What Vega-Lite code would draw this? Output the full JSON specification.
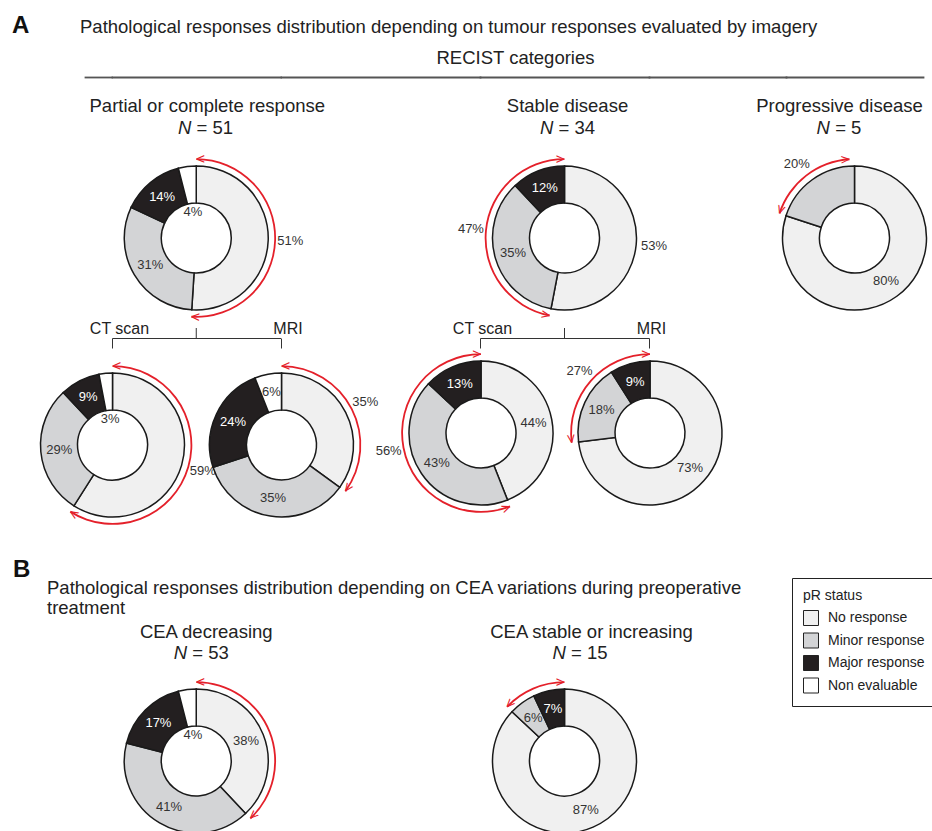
{
 "$schema": "https://vega.github.io/schema/vega-lite/v6.json",
 "padding": 0,
 "background": "white",
 "config": {
  "font": "Liberation Sans",
  "view": {"stroke": null},
  "legend": {"orient": "none", "legendX": 792, "legendY": 578, "padding": 11, "strokeColor": "#222222", "titleFontSize": 14, "titleFontWeight": "normal", "titleColor": "#222222", "titlePadding": 7, "labelFontSize": 14, "labelColor": "#222222", "symbolType": "square", "symbolSize": 225, "symbolStrokeColor": "#222222", "symbolStrokeWidth": 1, "rowPadding": 2.5, "labelOffset": 9}
 },
 "datasets": {
  "slices": [
   {"g":"PR","cat":"No response","k":1,"pct":51,"lab":""},
   {"g":"PR","cat":"Minor response","k":2,"pct":31,"lab":"31%"},
   {"g":"PR","cat":"Major response","k":3,"pct":14,"lab":"14%"},
   {"g":"PR","cat":"Non evaluable","k":4,"pct":4,"lab":"4%"},
   {"g":"SD","cat":"No response","k":1,"pct":53,"lab":"53%"},
   {"g":"SD","cat":"Minor response","k":2,"pct":35,"lab":"35%"},
   {"g":"SD","cat":"Major response","k":3,"pct":12,"lab":"12%"},
   {"g":"PD","cat":"No response","k":1,"pct":80,"lab":"80%"},
   {"g":"PD","cat":"Minor response","k":2,"pct":20,"lab":""},
   {"g":"PR-CT","cat":"No response","k":1,"pct":59,"lab":""},
   {"g":"PR-CT","cat":"Minor response","k":2,"pct":29,"lab":"29%"},
   {"g":"PR-CT","cat":"Major response","k":3,"pct":9,"lab":"9%"},
   {"g":"PR-CT","cat":"Non evaluable","k":4,"pct":3,"lab":"3%"},
   {"g":"PR-MRI","cat":"No response","k":1,"pct":35,"lab":""},
   {"g":"PR-MRI","cat":"Minor response","k":2,"pct":35,"lab":"35%"},
   {"g":"PR-MRI","cat":"Major response","k":3,"pct":24,"lab":"24%"},
   {"g":"PR-MRI","cat":"Non evaluable","k":4,"pct":6,"lab":"6%"},
   {"g":"SD-CT","cat":"No response","k":1,"pct":44,"lab":"44%"},
   {"g":"SD-CT","cat":"Minor response","k":2,"pct":43,"lab":"43%"},
   {"g":"SD-CT","cat":"Major response","k":3,"pct":13,"lab":"13%"},
   {"g":"SD-MRI","cat":"No response","k":1,"pct":73,"lab":"73%"},
   {"g":"SD-MRI","cat":"Minor response","k":2,"pct":18,"lab":"18%"},
   {"g":"SD-MRI","cat":"Major response","k":3,"pct":9,"lab":"9%"},
   {"g":"CEA-dec","cat":"No response","k":1,"pct":38,"lab":"38%"},
   {"g":"CEA-dec","cat":"Minor response","k":2,"pct":41,"lab":"41%"},
   {"g":"CEA-dec","cat":"Major response","k":3,"pct":17,"lab":"17%"},
   {"g":"CEA-dec","cat":"Non evaluable","k":4,"pct":4,"lab":"4%"},
   {"g":"CEA-inc","cat":"No response","k":1,"pct":87,"lab":"87%"},
   {"g":"CEA-inc","cat":"Minor response","k":2,"pct":6,"lab":"6%"},
   {"g":"CEA-inc","cat":"Major response","k":3,"pct":7,"lab":"7%"}
  ],
  "arcs": [
   {"g":"PR","a0":0,"a1":51,"lab":"51%"},
   {"g":"SD","a0":53,"a1":100,"lab":"47%"},
   {"g":"PD","a0":80,"a1":99,"lab":"20%"},
   {"g":"PR-CT","a0":0,"a1":59,"lab":"59%"},
   {"g":"PR-MRI","a0":0,"a1":35,"lab":"35%"},
   {"g":"SD-CT","a0":44,"a1":100,"lab":"56%"},
   {"g":"SD-MRI","a0":73,"a1":100,"lab":"27%"},
   {"g":"CEA-dec","a0":0,"a1":38,"lab":""},
   {"g":"CEA-inc","a0":87,"a1":100,"lab":""}
  ]
 },
 "columns": 7,
 "spacing": 0,
 "bounds": "flush",
 "align": "each",
 "concat": [
  {
   "width": 85, "height": 77,
   "layer": [
    {"data": {"values": [{"t": "A"}]}, "mark": {"type": "text", "align": "left", "baseline": "alphabetic", "dx": -30.5, "dy": -5.5, "fontSize": 24, "fontWeight": "bold", "color": "#111111"}, "encoding": {"text": {"field": "t", "type": "nominal"}}},
    {"data": {"values": [{"t": "Pathological responses distribution depending on tumour responses evaluated by imagery"}]}, "mark": {"type": "text", "align": "left", "baseline": "alphabetic", "dx": 37.5, "dy": -5.5, "fontSize": 18.5, "color": "#222222"}, "encoding": {"text": {"field": "t", "type": "nominal"}}},
    {"data": {"values": [{"t": "RECIST categories"}]}, "mark": {"type": "text", "align": "center", "baseline": "alphabetic", "dx": 473, "dy": 25.5, "fontSize": 18.5, "color": "#222222"}, "encoding": {"text": {"field": "t", "type": "nominal"}}}
   ]
  },
  {"width": 26.5, "height": 77, "data": {"values": [{}]}, "mark": {"type": "point", "opacity": 0, "size": 0, "strokeWidth": 0}, "encoding": {"x": {"datum": 0, "type": "quantitative", "scale": {"domain": [0, 1]}, "axis": {"orient": "bottom", "domain": true, "domainColor": "#555555", "domainWidth": 1.8, "domainCap": "square", "ticks": false, "labels": false, "grid": false, "title": null}}}},
  {"width": 168.5, "height": 77, "data": {"values": [{}]}, "mark": {"type": "point", "opacity": 0, "size": 0, "strokeWidth": 0}, "encoding": {"x": {"datum": 0, "type": "quantitative", "scale": {"domain": [0, 1]}, "axis": {"orient": "bottom", "domain": true, "domainColor": "#555555", "domainWidth": 1.8, "domainCap": "square", "ticks": false, "labels": false, "grid": false, "title": null}}}},
  {"width": 199, "height": 77, "data": {"values": [{}]}, "mark": {"type": "point", "opacity": 0, "size": 0, "strokeWidth": 0}, "encoding": {"x": {"datum": 0, "type": "quantitative", "scale": {"domain": [0, 1]}, "axis": {"orient": "bottom", "domain": true, "domainColor": "#555555", "domainWidth": 1.8, "domainCap": "square", "ticks": false, "labels": false, "grid": false, "title": null}}}},
  {"width": 169, "height": 77, "data": {"values": [{}]}, "mark": {"type": "point", "opacity": 0, "size": 0, "strokeWidth": 0}, "encoding": {"x": {"datum": 0, "type": "quantitative", "scale": {"domain": [0, 1]}, "axis": {"orient": "bottom", "domain": true, "domainColor": "#555555", "domainWidth": 1.8, "domainCap": "square", "ticks": false, "labels": false, "grid": false, "title": null}}}},
  {"width": 137, "height": 77, "data": {"values": [{}]}, "mark": {"type": "point", "opacity": 0, "size": 0, "strokeWidth": 0}, "encoding": {"x": {"datum": 0, "type": "quantitative", "scale": {"domain": [0, 1]}, "axis": {"orient": "bottom", "domain": true, "domainColor": "#555555", "domainWidth": 1.8, "domainCap": "square", "ticks": false, "labels": false, "grid": false, "title": null}}}},
  {"width": 137, "height": 77, "data": {"values": [{}]}, "mark": {"type": "point", "opacity": 0, "size": 0, "strokeWidth": 0}, "encoding": {"x": {"datum": 0, "type": "quantitative", "scale": {"domain": [0, 1]}, "axis": {"orient": "bottom", "domain": true, "domainColor": "#555555", "domainWidth": 1.8, "domainCap": "square", "ticks": false, "labels": false, "grid": false, "title": null}}}},

  {"width": 1, "height": 88, "data": {"values": [{}]}, "mark": {"type": "point", "opacity": 0, "size": 0, "strokeWidth": 0}},
  {"width": 1, "height": 1, "data": {"values": [{}]}, "mark": {"type": "point", "opacity": 0, "size": 0, "strokeWidth": 0}},
  {
   "width": 168.5, "height": 88,
   "layer": [
    {"data": {"values": [{"t": "Partial  or complete response"}]}, "mark": {"type": "text", "align": "center", "baseline": "alphabetic", "dx": 11, "dy": -9, "fontSize": 18.5, "color": "#222222"}, "encoding": {"text": {"field": "t", "type": "nominal"}}},
    {"data": {"values": [{"t": "N"}]}, "mark": {"type": "text", "align": "left", "baseline": "alphabetic", "dx": -18.25, "dy": 12.5, "fontSize": 18.5, "fontStyle": "italic", "color": "#222222"}, "encoding": {"text": {"field": "t", "type": "nominal"}}},
    {"data": {"values": [{"t": "= 51"}]}, "mark": {"type": "text", "align": "right", "baseline": "alphabetic", "dx": 36.75, "dy": 12.5, "fontSize": 18.5, "color": "#222222"}, "encoding": {"text": {"field": "t", "type": "nominal"}}}
   ]
  },
  {"width": 1, "height": 1, "data": {"values": [{}]}, "mark": {"type": "point", "opacity": 0, "size": 0, "strokeWidth": 0}},
  {
   "width": 169, "height": 88,
   "layer": [
    {"data": {"values": [{"t": "Stable disease"}]}, "mark": {"type": "text", "align": "center", "baseline": "alphabetic", "dx": 3, "dy": -9, "fontSize": 18.5, "color": "#222222"}, "encoding": {"text": {"field": "t", "type": "nominal"}}},
    {"data": {"values": [{"t": "N"}]}, "mark": {"type": "text", "align": "left", "baseline": "alphabetic", "dx": -24.5, "dy": 12.5, "fontSize": 18.5, "fontStyle": "italic", "color": "#222222"}, "encoding": {"text": {"field": "t", "type": "nominal"}}},
    {"data": {"values": [{"t": "= 34"}]}, "mark": {"type": "text", "align": "right", "baseline": "alphabetic", "dx": 30.5, "dy": 12.5, "fontSize": 18.5, "color": "#222222"}, "encoding": {"text": {"field": "t", "type": "nominal"}}}
   ]
  },
  {"width": 1, "height": 1, "data": {"values": [{}]}, "mark": {"type": "point", "opacity": 0, "size": 0, "strokeWidth": 0}},
  {
   "width": 137, "height": 88,
   "layer": [
    {"data": {"values": [{"t": "Progressive disease"}]}, "mark": {"type": "text", "align": "center", "baseline": "alphabetic", "dx": -15, "dy": -9, "fontSize": 18.5, "color": "#222222"}, "encoding": {"text": {"field": "t", "type": "nominal"}}},
    {"data": {"values": [{"t": "N"}]}, "mark": {"type": "text", "align": "left", "baseline": "alphabetic", "dx": -37.9, "dy": 12.5, "fontSize": 18.5, "fontStyle": "italic", "color": "#222222"}, "encoding": {"text": {"field": "t", "type": "nominal"}}},
    {"data": {"values": [{"t": "= 5"}]}, "mark": {"type": "text", "align": "right", "baseline": "alphabetic", "dx": 6.9, "dy": 12.5, "fontSize": 18.5, "color": "#222222"}, "encoding": {"text": {"field": "t", "type": "nominal"}}}
   ]
  },

  {"width": 1, "height": 163, "data": {"values": [{}]}, "mark": {"type": "point", "opacity": 0, "size": 0, "strokeWidth": 0}},
  {"width": 1, "height": 1, "data": {"values": [{}]}, "mark": {"type": "point", "opacity": 0, "size": 0, "strokeWidth": 0}},
  {
   "width": 168.5, "height": 146,
   "layer": [
    {"data":{"name":"slices"},"transform":[{"filter":"datum.g == 'PR'"}],"mark":{"type":"arc","innerRadius":35,"outerRadius":72,"stroke":"#1a1a1a","strokeWidth":1.5},"encoding":{"theta":{"field":"pct","type":"quantitative","stack":true,"scale":{"domain":[0,100]}},"order":{"field":"k","type":"quantitative"},"color":{"field":"cat","type":"nominal","title":"pR status","scale":{"domain":["No response","Minor response","Major response","Non evaluable"],"range":["#f0f0f0","#d3d4d6","#231f20","#ffffff"]}}}},
    {"data":{"name":"slices"},"transform":[{"filter":"datum.g == 'PR'"}],"mark":{"type":"text","radius":53.5,"fontSize":13},"encoding":{"theta":{"field":"pct","type":"quantitative","stack":true,"scale":{"domain":[0,100]}},"order":{"field":"k","type":"quantitative"},"text":{"condition":{"test":"!(datum.cat == 'Non evaluable' && datum.pct < 5)","field":"lab","type":"nominal"},"value":""},"color":{"condition":{"test":"datum.cat == 'Major response'","value":"#ffffff"},"value":"#333333"}}},
    {"data":{"name":"slices"},"transform":[{"filter":"datum.g == 'PR'"}],"mark":{"type":"text","radius":26,"fontSize":13,"color":"#333333"},"encoding":{"theta":{"field":"pct","type":"quantitative","stack":true,"scale":{"domain":[0,100]}},"order":{"field":"k","type":"quantitative"},"text":{"condition":{"test":"datum.cat == 'Non evaluable' && datum.pct < 5","field":"lab","type":"nominal"},"value":""}}},
    {"data":{"name":"arcs"},"transform":[{"filter":"datum.g == 'PR'"}],"mark":{"type":"arc","innerRadius":78,"outerRadius":79.8,"color":"#e4202a"},"encoding":{"theta":{"field":"a0","type":"quantitative","stack":null,"scale":{"domain":[0,100]}},"theta2":{"field":"a1"}}},
    {"data":{"name":"arcs"},"transform":[{"filter":"datum.g == 'PR'"},{"fold":["a0","a1"],"as":["end","v"]}],"mark":{"type":"text","radius":94,"fontSize":13,"color":"#333333"},"encoding":{"theta":{"aggregate":"mean","field":"v","type":"quantitative","stack":null,"scale":{"domain":[0,100]}},"text":{"field":"lab","type":"nominal"}}},
    {"data":{"name":"arcs"},"transform":[{"filter":"datum.g == 'PR'"}],"mark":{"type":"text","text":">","radius":78.9,"align":"right","baseline":"middle","fontSize":15,"color":"#e4202a"},"encoding":{"theta":{"field":"a1","type":"quantitative","stack":null,"scale":{"domain":[0,100]}},"angle":{"field":"a1","type":"quantitative","scale":{"domain":[0,100],"range":[0,360]}}}},
    {"data":{"name":"arcs"},"transform":[{"filter":"datum.g == 'PR'"}],"mark":{"type":"text","text":">","radius":78.9,"align":"right","baseline":"middle","fontSize":15,"color":"#e4202a"},"encoding":{"theta":{"field":"a0","type":"quantitative","stack":null,"scale":{"domain":[0,100]}},"angle":{"field":"a0","type":"quantitative","scale":{"domain":[0,100],"range":[180,540]}}}}
   ],
   "resolve": {"scale": {"angle": "independent"}}
  },
  {"width": 1, "height": 1, "data": {"values": [{}]}, "mark": {"type": "point", "opacity": 0, "size": 0, "strokeWidth": 0}},
  {
   "width": 169, "height": 146,
   "layer": [
    {"data":{"name":"slices"},"transform":[{"filter":"datum.g == 'SD'"}],"mark":{"type":"arc","innerRadius":35,"outerRadius":72,"stroke":"#1a1a1a","strokeWidth":1.5},"encoding":{"theta":{"field":"pct","type":"quantitative","stack":true,"scale":{"domain":[0,100]}},"order":{"field":"k","type":"quantitative"},"color":{"field":"cat","type":"nominal","title":"pR status","scale":{"domain":["No response","Minor response","Major response","Non evaluable"],"range":["#f0f0f0","#d3d4d6","#231f20","#ffffff"]}}}},
    {"data":{"name":"slices"},"transform":[{"filter":"datum.g == 'SD'"}],"mark":{"type":"text","radius":53.5,"fontSize":13},"encoding":{"theta":{"field":"pct","type":"quantitative","stack":true,"scale":{"domain":[0,100]}},"order":{"field":"k","type":"quantitative"},"text":{"condition":{"test":"datum.cat != 'No response' && !(datum.cat == 'Non evaluable' && datum.pct < 5)","field":"lab","type":"nominal"},"value":""},"color":{"condition":{"test":"datum.cat == 'Major response'","value":"#ffffff"},"value":"#333333"}}},
    {"data":{"name":"slices"},"transform":[{"filter":"datum.g == 'SD'"}],"mark":{"type":"text","radius":90,"fontSize":13,"color":"#333333"},"encoding":{"theta":{"field":"pct","type":"quantitative","stack":true,"scale":{"domain":[0,100]}},"order":{"field":"k","type":"quantitative"},"text":{"condition":{"test":"datum.cat == 'No response'","field":"lab","type":"nominal"},"value":""}}},
    {"data":{"name":"arcs"},"transform":[{"filter":"datum.g == 'SD'"}],"mark":{"type":"arc","innerRadius":78,"outerRadius":79.8,"color":"#e4202a"},"encoding":{"theta":{"field":"a0","type":"quantitative","stack":null,"scale":{"domain":[0,100]}},"theta2":{"field":"a1"}}},
    {"data":{"name":"arcs"},"transform":[{"filter":"datum.g == 'SD'"},{"fold":["a0","a1"],"as":["end","v"]}],"mark":{"type":"text","radius":94,"fontSize":13,"color":"#333333"},"encoding":{"theta":{"aggregate":"mean","field":"v","type":"quantitative","stack":null,"scale":{"domain":[0,100]}},"text":{"field":"lab","type":"nominal"}}},
    {"data":{"name":"arcs"},"transform":[{"filter":"datum.g == 'SD'"}],"mark":{"type":"text","text":">","radius":78.9,"align":"right","baseline":"middle","fontSize":15,"color":"#e4202a"},"encoding":{"theta":{"field":"a1","type":"quantitative","stack":null,"scale":{"domain":[0,100]}},"angle":{"field":"a1","type":"quantitative","scale":{"domain":[0,100],"range":[0,360]}}}},
    {"data":{"name":"arcs"},"transform":[{"filter":"datum.g == 'SD'"}],"mark":{"type":"text","text":">","radius":78.9,"align":"right","baseline":"middle","fontSize":15,"color":"#e4202a"},"encoding":{"theta":{"field":"a0","type":"quantitative","stack":null,"scale":{"domain":[0,100]}},"angle":{"field":"a0","type":"quantitative","scale":{"domain":[0,100],"range":[180,540]}}}}
   ],
   "resolve": {"scale": {"angle": "independent"}}
  },
  {"width": 1, "height": 1, "data": {"values": [{}]}, "mark": {"type": "point", "opacity": 0, "size": 0, "strokeWidth": 0}},
  {
   "width": 137, "height": 146,
   "layer": [
    {"data":{"name":"slices"},"transform":[{"filter":"datum.g == 'PD'"}],"mark":{"type":"arc","innerRadius":35,"outerRadius":72,"stroke":"#1a1a1a","strokeWidth":1.5},"encoding":{"theta":{"field":"pct","type":"quantitative","stack":true,"scale":{"domain":[0,100]}},"order":{"field":"k","type":"quantitative"},"color":{"field":"cat","type":"nominal","title":"pR status","scale":{"domain":["No response","Minor response","Major response","Non evaluable"],"range":["#f0f0f0","#d3d4d6","#231f20","#ffffff"]}}}},
    {"data":{"name":"slices"},"transform":[{"filter":"datum.g == 'PD'"}],"mark":{"type":"text","radius":53.5,"fontSize":13},"encoding":{"theta":{"field":"pct","type":"quantitative","stack":true,"scale":{"domain":[0,100]}},"order":{"field":"k","type":"quantitative"},"text":{"condition":{"test":"!(datum.cat == 'Non evaluable' && datum.pct < 5)","field":"lab","type":"nominal"},"value":""},"color":{"condition":{"test":"datum.cat == 'Major response'","value":"#ffffff"},"value":"#333333"}}},
    {"data":{"name":"arcs"},"transform":[{"filter":"datum.g == 'PD'"}],"mark":{"type":"arc","innerRadius":78,"outerRadius":79.8,"color":"#e4202a"},"encoding":{"theta":{"field":"a0","type":"quantitative","stack":null,"scale":{"domain":[0,100]}},"theta2":{"field":"a1"}}},
    {"data":{"name":"arcs"},"transform":[{"filter":"datum.g == 'PD'"},{"fold":["a0","a1"],"as":["end","v"]}],"mark":{"type":"text","radius":94,"fontSize":13,"color":"#333333"},"encoding":{"theta":{"aggregate":"mean","field":"v","type":"quantitative","stack":null,"scale":{"domain":[0,100]}},"text":{"field":"lab","type":"nominal"}}},
    {"data":{"name":"arcs"},"transform":[{"filter":"datum.g == 'PD'"}],"mark":{"type":"text","text":">","radius":78.9,"align":"right","baseline":"middle","fontSize":15,"color":"#e4202a"},"encoding":{"theta":{"field":"a1","type":"quantitative","stack":null,"scale":{"domain":[0,100]}},"angle":{"field":"a1","type":"quantitative","scale":{"domain":[0,100],"range":[0,360]}}}},
    {"data":{"name":"arcs"},"transform":[{"filter":"datum.g == 'PD'"}],"mark":{"type":"text","text":">","radius":78.9,"align":"right","baseline":"middle","fontSize":15,"color":"#e4202a"},"encoding":{"theta":{"field":"a0","type":"quantitative","stack":null,"scale":{"domain":[0,100]}},"angle":{"field":"a0","type":"quantitative","scale":{"domain":[0,100],"range":[180,540]}}}}
   ],
   "resolve": {"scale": {"angle": "independent"}}
  },

  {"width": 1, "height": 10, "data": {"values": [{}]}, "mark": {"type": "point", "opacity": 0, "size": 0, "strokeWidth": 0}},
  {"width": 1, "height": 1, "data": {"values": [{}]}, "mark": {"type": "point", "opacity": 0, "size": 0, "strokeWidth": 0}},
  {"width": 168.5, "height": 10, "data": {"values": [{}]}, "mark": {"type": "rule", "color": "#333333", "strokeWidth": 1}, "encoding": {"x": {"datum": 0.5, "type": "quantitative", "scale": {"domain": [0, 1]}, "axis": {"orient": "bottom", "values": [0, 1], "domain": true, "domainColor": "#333333", "domainWidth": 1, "ticks": true, "tickSize": 10, "tickColor": "#333333", "tickWidth": 1, "labels": true, "labelExpr": "datum.value == 0 ? 'CT scan' : 'MRI'", "labelPadding": -15, "labelBaseline": "alphabetic", "labelAlign": "center", "labelOffset": 7, "labelFontSize": 16, "labelColor": "#222222", "labelFlush": false, "labelOverlap": false, "labelBound": false, "grid": false, "title": null}}}},
  {"width": 1, "height": 1, "data": {"values": [{}]}, "mark": {"type": "point", "opacity": 0, "size": 0, "strokeWidth": 0}},
  {"width": 169, "height": 10, "data": {"values": [{}]}, "mark": {"type": "rule", "color": "#333333", "strokeWidth": 1}, "encoding": {"x": {"datum": 0.5, "type": "quantitative", "scale": {"domain": [0, 1]}, "axis": {"orient": "bottom", "values": [0, 1], "domain": true, "domainColor": "#333333", "domainWidth": 1, "ticks": true, "tickSize": 10, "tickColor": "#333333", "tickWidth": 1, "labels": true, "labelExpr": "datum.value == 0 ? 'CT scan' : 'MRI'", "labelPadding": -15, "labelBaseline": "alphabetic", "labelAlign": "center", "labelOffset": 2, "labelFontSize": 16, "labelColor": "#222222", "labelFlush": false, "labelOverlap": false, "labelBound": false, "grid": false, "title": null}}}},
  {"width": 1, "height": 1, "data": {"values": [{}]}, "mark": {"type": "point", "opacity": 0, "size": 0, "strokeWidth": 0}},
  {"width": 1, "height": 1, "data": {"values": [{}]}, "mark": {"type": "point", "opacity": 0, "size": 0, "strokeWidth": 0}},

  {"width": 1, "height": 1, "data": {"values": [{}]}, "mark": {"type": "point", "opacity": 0, "size": 0, "strokeWidth": 0}},
  {"width": 1, "height": 1, "data": {"values": [{}]}, "mark": {"type": "point", "opacity": 0, "size": 0, "strokeWidth": 0}},
  {
   "width": 1, "height": 214,
   "layer": [
    {"data":{"name":"slices"},"transform":[{"filter":"datum.g == 'PR-CT'"}],"mark":{"type":"arc","innerRadius":35,"outerRadius":72,"stroke":"#1a1a1a","strokeWidth":1.5},"encoding":{"theta":{"field":"pct","type":"quantitative","stack":true,"scale":{"domain":[0,100]}},"order":{"field":"k","type":"quantitative"},"color":{"field":"cat","type":"nominal","title":"pR status","scale":{"domain":["No response","Minor response","Major response","Non evaluable"],"range":["#f0f0f0","#d3d4d6","#231f20","#ffffff"]}}}},
    {"data":{"name":"slices"},"transform":[{"filter":"datum.g == 'PR-CT'"}],"mark":{"type":"text","radius":53.5,"fontSize":13},"encoding":{"theta":{"field":"pct","type":"quantitative","stack":true,"scale":{"domain":[0,100]}},"order":{"field":"k","type":"quantitative"},"text":{"condition":{"test":"!(datum.cat == 'Non evaluable' && datum.pct < 5)","field":"lab","type":"nominal"},"value":""},"color":{"condition":{"test":"datum.cat == 'Major response'","value":"#ffffff"},"value":"#333333"}}},
    {"data":{"name":"slices"},"transform":[{"filter":"datum.g == 'PR-CT'"}],"mark":{"type":"text","radius":26,"fontSize":13,"color":"#333333"},"encoding":{"theta":{"field":"pct","type":"quantitative","stack":true,"scale":{"domain":[0,100]}},"order":{"field":"k","type":"quantitative"},"text":{"condition":{"test":"datum.cat == 'Non evaluable' && datum.pct < 5","field":"lab","type":"nominal"},"value":""}}},
    {"data":{"name":"arcs"},"transform":[{"filter":"datum.g == 'PR-CT'"}],"mark":{"type":"arc","innerRadius":78,"outerRadius":79.8,"color":"#e4202a"},"encoding":{"theta":{"field":"a0","type":"quantitative","stack":null,"scale":{"domain":[0,100]}},"theta2":{"field":"a1"}}},
    {"data":{"name":"arcs"},"transform":[{"filter":"datum.g == 'PR-CT'"},{"fold":["a0","a1"],"as":["end","v"]}],"mark":{"type":"text","radius":94,"fontSize":13,"color":"#333333"},"encoding":{"theta":{"aggregate":"mean","field":"v","type":"quantitative","stack":null,"scale":{"domain":[0,100]}},"text":{"field":"lab","type":"nominal"}}},
    {"data":{"name":"arcs"},"transform":[{"filter":"datum.g == 'PR-CT'"}],"mark":{"type":"text","text":">","radius":78.9,"align":"right","baseline":"middle","fontSize":15,"color":"#e4202a"},"encoding":{"theta":{"field":"a1","type":"quantitative","stack":null,"scale":{"domain":[0,100]}},"angle":{"field":"a1","type":"quantitative","scale":{"domain":[0,100],"range":[0,360]}}}},
    {"data":{"name":"arcs"},"transform":[{"filter":"datum.g == 'PR-CT'"}],"mark":{"type":"text","text":">","radius":78.9,"align":"right","baseline":"middle","fontSize":15,"color":"#e4202a"},"encoding":{"theta":{"field":"a0","type":"quantitative","stack":null,"scale":{"domain":[0,100]}},"angle":{"field":"a0","type":"quantitative","scale":{"domain":[0,100],"range":[180,540]}}}}
   ],
   "resolve": {"scale": {"angle": "independent"}}
  },
  {
   "width": 1, "height": 214,
   "layer": [
    {"data":{"name":"slices"},"transform":[{"filter":"datum.g == 'PR-MRI'"}],"mark":{"type":"arc","innerRadius":35,"outerRadius":72,"stroke":"#1a1a1a","strokeWidth":1.5},"encoding":{"theta":{"field":"pct","type":"quantitative","stack":true,"scale":{"domain":[0,100]}},"order":{"field":"k","type":"quantitative"},"color":{"field":"cat","type":"nominal","title":"pR status","scale":{"domain":["No response","Minor response","Major response","Non evaluable"],"range":["#f0f0f0","#d3d4d6","#231f20","#ffffff"]}}}},
    {"data":{"name":"slices"},"transform":[{"filter":"datum.g == 'PR-MRI'"}],"mark":{"type":"text","radius":53.5,"fontSize":13},"encoding":{"theta":{"field":"pct","type":"quantitative","stack":true,"scale":{"domain":[0,100]}},"order":{"field":"k","type":"quantitative"},"text":{"condition":{"test":"!(datum.cat == 'Non evaluable' && datum.pct < 5)","field":"lab","type":"nominal"},"value":""},"color":{"condition":{"test":"datum.cat == 'Major response'","value":"#ffffff"},"value":"#333333"}}},
    {"data":{"name":"arcs"},"transform":[{"filter":"datum.g == 'PR-MRI'"}],"mark":{"type":"arc","innerRadius":78,"outerRadius":79.8,"color":"#e4202a"},"encoding":{"theta":{"field":"a0","type":"quantitative","stack":null,"scale":{"domain":[0,100]}},"theta2":{"field":"a1"}}},
    {"data":{"name":"arcs"},"transform":[{"filter":"datum.g == 'PR-MRI'"},{"fold":["a0","a1"],"as":["end","v"]}],"mark":{"type":"text","radius":94,"fontSize":13,"color":"#333333"},"encoding":{"theta":{"aggregate":"mean","field":"v","type":"quantitative","stack":null,"scale":{"domain":[0,100]}},"text":{"field":"lab","type":"nominal"}}},
    {"data":{"name":"arcs"},"transform":[{"filter":"datum.g == 'PR-MRI'"}],"mark":{"type":"text","text":">","radius":78.9,"align":"right","baseline":"middle","fontSize":15,"color":"#e4202a"},"encoding":{"theta":{"field":"a1","type":"quantitative","stack":null,"scale":{"domain":[0,100]}},"angle":{"field":"a1","type":"quantitative","scale":{"domain":[0,100],"range":[0,360]}}}},
    {"data":{"name":"arcs"},"transform":[{"filter":"datum.g == 'PR-MRI'"}],"mark":{"type":"text","text":">","radius":78.9,"align":"right","baseline":"middle","fontSize":15,"color":"#e4202a"},"encoding":{"theta":{"field":"a0","type":"quantitative","stack":null,"scale":{"domain":[0,100]}},"angle":{"field":"a0","type":"quantitative","scale":{"domain":[0,100],"range":[180,540]}}}}
   ],
   "resolve": {"scale": {"angle": "independent"}}
  },
  {
   "width": 2, "height": 190,
   "layer": [
    {"data":{"name":"slices"},"transform":[{"filter":"datum.g == 'SD-CT'"}],"mark":{"type":"arc","innerRadius":35,"outerRadius":72,"stroke":"#1a1a1a","strokeWidth":1.5},"encoding":{"theta":{"field":"pct","type":"quantitative","stack":true,"scale":{"domain":[0,100]}},"order":{"field":"k","type":"quantitative"},"color":{"field":"cat","type":"nominal","title":"pR status","scale":{"domain":["No response","Minor response","Major response","Non evaluable"],"range":["#f0f0f0","#d3d4d6","#231f20","#ffffff"]}}}},
    {"data":{"name":"slices"},"transform":[{"filter":"datum.g == 'SD-CT'"}],"mark":{"type":"text","radius":53.5,"fontSize":13},"encoding":{"theta":{"field":"pct","type":"quantitative","stack":true,"scale":{"domain":[0,100]}},"order":{"field":"k","type":"quantitative"},"text":{"condition":{"test":"!(datum.cat == 'Non evaluable' && datum.pct < 5)","field":"lab","type":"nominal"},"value":""},"color":{"condition":{"test":"datum.cat == 'Major response'","value":"#ffffff"},"value":"#333333"}}},
    {"data":{"name":"arcs"},"transform":[{"filter":"datum.g == 'SD-CT'"}],"mark":{"type":"arc","innerRadius":78,"outerRadius":79.8,"color":"#e4202a"},"encoding":{"theta":{"field":"a0","type":"quantitative","stack":null,"scale":{"domain":[0,100]}},"theta2":{"field":"a1"}}},
    {"data":{"name":"arcs"},"transform":[{"filter":"datum.g == 'SD-CT'"},{"fold":["a0","a1"],"as":["end","v"]}],"mark":{"type":"text","radius":94,"fontSize":13,"color":"#333333"},"encoding":{"theta":{"aggregate":"mean","field":"v","type":"quantitative","stack":null,"scale":{"domain":[0,100]}},"text":{"field":"lab","type":"nominal"}}},
    {"data":{"name":"arcs"},"transform":[{"filter":"datum.g == 'SD-CT'"}],"mark":{"type":"text","text":">","radius":78.9,"align":"right","baseline":"middle","fontSize":15,"color":"#e4202a"},"encoding":{"theta":{"field":"a1","type":"quantitative","stack":null,"scale":{"domain":[0,100]}},"angle":{"field":"a1","type":"quantitative","scale":{"domain":[0,100],"range":[0,360]}}}},
    {"data":{"name":"arcs"},"transform":[{"filter":"datum.g == 'SD-CT'"}],"mark":{"type":"text","text":">","radius":78.9,"align":"right","baseline":"middle","fontSize":15,"color":"#e4202a"},"encoding":{"theta":{"field":"a0","type":"quantitative","stack":null,"scale":{"domain":[0,100]}},"angle":{"field":"a0","type":"quantitative","scale":{"domain":[0,100],"range":[180,540]}}}}
   ],
   "resolve": {"scale": {"angle": "independent"}}
  },
  {
   "width": 2, "height": 190,
   "layer": [
    {"data":{"name":"slices"},"transform":[{"filter":"datum.g == 'SD-MRI'"}],"mark":{"type":"arc","innerRadius":35,"outerRadius":72,"stroke":"#1a1a1a","strokeWidth":1.5},"encoding":{"theta":{"field":"pct","type":"quantitative","stack":true,"scale":{"domain":[0,100]}},"order":{"field":"k","type":"quantitative"},"color":{"field":"cat","type":"nominal","title":"pR status","scale":{"domain":["No response","Minor response","Major response","Non evaluable"],"range":["#f0f0f0","#d3d4d6","#231f20","#ffffff"]}}}},
    {"data":{"name":"slices"},"transform":[{"filter":"datum.g == 'SD-MRI'"}],"mark":{"type":"text","radius":53.5,"fontSize":13},"encoding":{"theta":{"field":"pct","type":"quantitative","stack":true,"scale":{"domain":[0,100]}},"order":{"field":"k","type":"quantitative"},"text":{"condition":{"test":"!(datum.cat == 'Non evaluable' && datum.pct < 5)","field":"lab","type":"nominal"},"value":""},"color":{"condition":{"test":"datum.cat == 'Major response'","value":"#ffffff"},"value":"#333333"}}},
    {"data":{"name":"arcs"},"transform":[{"filter":"datum.g == 'SD-MRI'"}],"mark":{"type":"arc","innerRadius":78,"outerRadius":79.8,"color":"#e4202a"},"encoding":{"theta":{"field":"a0","type":"quantitative","stack":null,"scale":{"domain":[0,100]}},"theta2":{"field":"a1"}}},
    {"data":{"name":"arcs"},"transform":[{"filter":"datum.g == 'SD-MRI'"},{"fold":["a0","a1"],"as":["end","v"]}],"mark":{"type":"text","radius":94,"fontSize":13,"color":"#333333"},"encoding":{"theta":{"aggregate":"mean","field":"v","type":"quantitative","stack":null,"scale":{"domain":[0,100]}},"text":{"field":"lab","type":"nominal"}}},
    {"data":{"name":"arcs"},"transform":[{"filter":"datum.g == 'SD-MRI'"}],"mark":{"type":"text","text":">","radius":78.9,"align":"right","baseline":"middle","fontSize":15,"color":"#e4202a"},"encoding":{"theta":{"field":"a1","type":"quantitative","stack":null,"scale":{"domain":[0,100]}},"angle":{"field":"a1","type":"quantitative","scale":{"domain":[0,100],"range":[0,360]}}}},
    {"data":{"name":"arcs"},"transform":[{"filter":"datum.g == 'SD-MRI'"}],"mark":{"type":"text","text":">","radius":78.9,"align":"right","baseline":"middle","fontSize":15,"color":"#e4202a"},"encoding":{"theta":{"field":"a0","type":"quantitative","stack":null,"scale":{"domain":[0,100]}},"angle":{"field":"a0","type":"quantitative","scale":{"domain":[0,100],"range":[180,540]}}}}
   ],
   "resolve": {"scale": {"angle": "independent"}}
  },
  {"width": 1, "height": 1, "data": {"values": [{}]}, "mark": {"type": "point", "opacity": 0, "size": 0, "strokeWidth": 0}},

  {
   "width": 85, "height": 136,
   "layer": [
    {"data": {"values": [{"t": "B"}]}, "mark": {"type": "text", "align": "left", "baseline": "alphabetic", "dx": -29.5, "dy": -43, "fontSize": 24, "fontWeight": "bold", "color": "#111111"}, "encoding": {"text": {"field": "t", "type": "nominal"}}},
    {"data": {"values": [{"t": ["Pathological responses distribution depending on CEA variations during preoperative", "treatment"]}]}, "mark": {"type": "text", "align": "left", "baseline": "alphabetic", "dx": 4.5, "dy": -26, "fontSize": 18.5, "lineHeight": 20, "color": "#222222"}, "encoding": {"text": {"field": "t", "type": "nominal"}}}
   ]
  },
  {"width": 1, "height": 1, "data": {"values": [{}]}, "mark": {"type": "point", "opacity": 0, "size": 0, "strokeWidth": 0}},
  {
   "width": 168.5, "height": 136,
   "layer": [
    {"data": {"values": [{"t": "CEA decreasing"}]}, "mark": {"type": "text", "align": "center", "baseline": "alphabetic", "dx": 10, "dy": 18, "fontSize": 18.5, "color": "#222222"}, "encoding": {"text": {"field": "t", "type": "nominal"}}},
    {"data": {"values": [{"t": "N"}]}, "mark": {"type": "text", "align": "left", "baseline": "alphabetic", "dx": -22.5, "dy": 39, "fontSize": 18.5, "fontStyle": "italic", "color": "#222222"}, "encoding": {"text": {"field": "t", "type": "nominal"}}},
    {"data": {"values": [{"t": "= 53"}]}, "mark": {"type": "text", "align": "right", "baseline": "alphabetic", "dx": 32.5, "dy": 39, "fontSize": 18.5, "color": "#222222"}, "encoding": {"text": {"field": "t", "type": "nominal"}}}
   ]
  },
  {"width": 1, "height": 1, "data": {"values": [{}]}, "mark": {"type": "point", "opacity": 0, "size": 0, "strokeWidth": 0}},
  {
   "width": 169, "height": 136,
   "layer": [
    {"data": {"values": [{"t": "CEA stable or increasing"}]}, "mark": {"type": "text", "align": "center", "baseline": "alphabetic", "dx": 27, "dy": 18, "fontSize": 18.5, "color": "#222222"}, "encoding": {"text": {"field": "t", "type": "nominal"}}},
    {"data": {"values": [{"t": "N"}]}, "mark": {"type": "text", "align": "left", "baseline": "alphabetic", "dx": -12, "dy": 39, "fontSize": 18.5, "fontStyle": "italic", "color": "#222222"}, "encoding": {"text": {"field": "t", "type": "nominal"}}},
    {"data": {"values": [{"t": "= 15"}]}, "mark": {"type": "text", "align": "right", "baseline": "alphabetic", "dx": 43, "dy": 39, "fontSize": 18.5, "color": "#222222"}, "encoding": {"text": {"field": "t", "type": "nominal"}}}
   ]
  },
  {"width": 1, "height": 1, "data": {"values": [{}]}, "mark": {"type": "point", "opacity": 0, "size": 0, "strokeWidth": 0}},
  {"width": 1, "height": 1, "data": {"values": [{}]}, "mark": {"type": "point", "opacity": 0, "size": 0, "strokeWidth": 0}},

  {"width": 1, "height": 1, "data": {"values": [{}]}, "mark": {"type": "point", "opacity": 0, "size": 0, "strokeWidth": 0}},
  {"width": 1, "height": 1, "data": {"values": [{}]}, "mark": {"type": "point", "opacity": 0, "size": 0, "strokeWidth": 0}},
  {
   "width": 168.5, "height": 146,
   "layer": [
    {"data":{"name":"slices"},"transform":[{"filter":"datum.g == 'CEA-dec'"}],"mark":{"type":"arc","innerRadius":35,"outerRadius":72,"stroke":"#1a1a1a","strokeWidth":1.5},"encoding":{"theta":{"field":"pct","type":"quantitative","stack":true,"scale":{"domain":[0,100]}},"order":{"field":"k","type":"quantitative"},"color":{"field":"cat","type":"nominal","title":"pR status","scale":{"domain":["No response","Minor response","Major response","Non evaluable"],"range":["#f0f0f0","#d3d4d6","#231f20","#ffffff"]}}}},
    {"data":{"name":"slices"},"transform":[{"filter":"datum.g == 'CEA-dec'"}],"mark":{"type":"text","radius":53.5,"fontSize":13},"encoding":{"theta":{"field":"pct","type":"quantitative","stack":true,"scale":{"domain":[0,100]}},"order":{"field":"k","type":"quantitative"},"text":{"condition":{"test":"!(datum.cat == 'Non evaluable' && datum.pct < 5)","field":"lab","type":"nominal"},"value":""},"color":{"condition":{"test":"datum.cat == 'Major response'","value":"#ffffff"},"value":"#333333"}}},
    {"data":{"name":"slices"},"transform":[{"filter":"datum.g == 'CEA-dec'"}],"mark":{"type":"text","radius":26,"fontSize":13,"color":"#333333"},"encoding":{"theta":{"field":"pct","type":"quantitative","stack":true,"scale":{"domain":[0,100]}},"order":{"field":"k","type":"quantitative"},"text":{"condition":{"test":"datum.cat == 'Non evaluable' && datum.pct < 5","field":"lab","type":"nominal"},"value":""}}},
    {"data":{"name":"arcs"},"transform":[{"filter":"datum.g == 'CEA-dec'"}],"mark":{"type":"arc","innerRadius":78,"outerRadius":79.8,"color":"#e4202a"},"encoding":{"theta":{"field":"a0","type":"quantitative","stack":null,"scale":{"domain":[0,100]}},"theta2":{"field":"a1"}}},
    {"data":{"name":"arcs"},"transform":[{"filter":"datum.g == 'CEA-dec'"}],"mark":{"type":"text","text":">","radius":78.9,"align":"right","baseline":"middle","fontSize":15,"color":"#e4202a"},"encoding":{"theta":{"field":"a1","type":"quantitative","stack":null,"scale":{"domain":[0,100]}},"angle":{"field":"a1","type":"quantitative","scale":{"domain":[0,100],"range":[0,360]}}}},
    {"data":{"name":"arcs"},"transform":[{"filter":"datum.g == 'CEA-dec'"}],"mark":{"type":"text","text":">","radius":78.9,"align":"right","baseline":"middle","fontSize":15,"color":"#e4202a"},"encoding":{"theta":{"field":"a0","type":"quantitative","stack":null,"scale":{"domain":[0,100]}},"angle":{"field":"a0","type":"quantitative","scale":{"domain":[0,100],"range":[180,540]}}}}
   ],
   "resolve": {"scale": {"angle": "independent"}}
  },
  {"width": 1, "height": 1, "data": {"values": [{}]}, "mark": {"type": "point", "opacity": 0, "size": 0, "strokeWidth": 0}},
  {
   "width": 169, "height": 146,
   "layer": [
    {"data":{"name":"slices"},"transform":[{"filter":"datum.g == 'CEA-inc'"}],"mark":{"type":"arc","innerRadius":35,"outerRadius":72,"stroke":"#1a1a1a","strokeWidth":1.5},"encoding":{"theta":{"field":"pct","type":"quantitative","stack":true,"scale":{"domain":[0,100]}},"order":{"field":"k","type":"quantitative"},"color":{"field":"cat","type":"nominal","title":"pR status","scale":{"domain":["No response","Minor response","Major response","Non evaluable"],"range":["#f0f0f0","#d3d4d6","#231f20","#ffffff"]}}}},
    {"data":{"name":"slices"},"transform":[{"filter":"datum.g == 'CEA-inc'"}],"mark":{"type":"text","radius":53.5,"fontSize":13},"encoding":{"theta":{"field":"pct","type":"quantitative","stack":true,"scale":{"domain":[0,100]}},"order":{"field":"k","type":"quantitative"},"text":{"condition":{"test":"!(datum.cat == 'Non evaluable' && datum.pct < 5)","field":"lab","type":"nominal"},"value":""},"color":{"condition":{"test":"datum.cat == 'Major response'","value":"#ffffff"},"value":"#333333"}}},
    {"data":{"name":"arcs"},"transform":[{"filter":"datum.g == 'CEA-inc'"}],"mark":{"type":"arc","innerRadius":78,"outerRadius":79.8,"color":"#e4202a"},"encoding":{"theta":{"field":"a0","type":"quantitative","stack":null,"scale":{"domain":[0,100]}},"theta2":{"field":"a1"}}},
    {"data":{"name":"arcs"},"transform":[{"filter":"datum.g == 'CEA-inc'"}],"mark":{"type":"text","text":">","radius":78.9,"align":"right","baseline":"middle","fontSize":15,"color":"#e4202a"},"encoding":{"theta":{"field":"a1","type":"quantitative","stack":null,"scale":{"domain":[0,100]}},"angle":{"field":"a1","type":"quantitative","scale":{"domain":[0,100],"range":[0,360]}}}},
    {"data":{"name":"arcs"},"transform":[{"filter":"datum.g == 'CEA-inc'"}],"mark":{"type":"text","text":">","radius":78.9,"align":"right","baseline":"middle","fontSize":15,"color":"#e4202a"},"encoding":{"theta":{"field":"a0","type":"quantitative","stack":null,"scale":{"domain":[0,100]}},"angle":{"field":"a0","type":"quantitative","scale":{"domain":[0,100],"range":[180,540]}}}}
   ],
   "resolve": {"scale": {"angle": "independent"}}
  },
  {"width": 1, "height": 1, "data": {"values": [{}]}, "mark": {"type": "point", "opacity": 0, "size": 0, "strokeWidth": 0}},
  {"width": 1, "height": 1, "data": {"values": [{}]}, "mark": {"type": "point", "opacity": 0, "size": 0, "strokeWidth": 0}}
 ]
}
